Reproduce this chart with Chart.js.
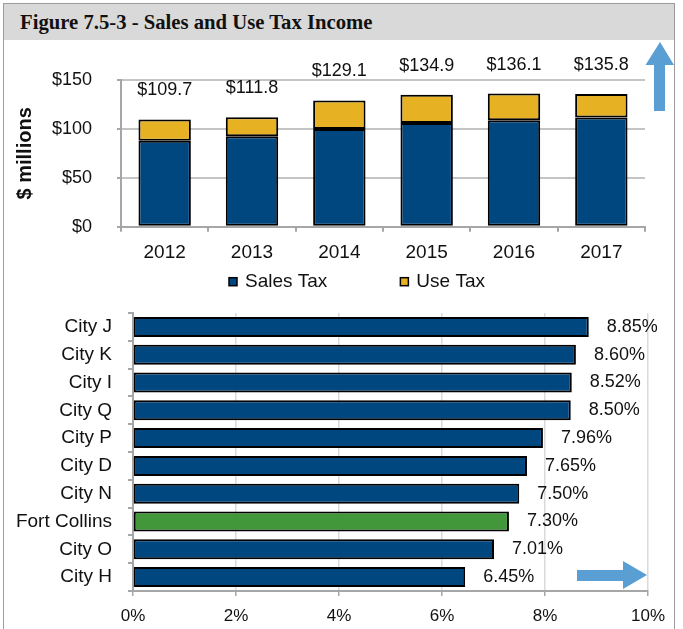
<!DOCTYPE html>
<html lang="en">
<head>
<meta charset="UTF-8">
<title>Sales and Use Tax Income</title>
<script src="https://cdn.jsdelivr.net/npm/chart.js"></script>
<style>
  body { margin: 0; padding: 0; background: #fff; }
  .figure { position: relative; width: 683px; height: 629px; overflow: hidden; }
  .frame {
    position: absolute; left: 3px; top: 3px;
    width: 670px; height: 700px;
    border: 1px solid #9c9c9c;
  }
  .header {
    position: absolute; left: 4px; top: 4px;
    width: 670px; height: 36px;
    box-sizing: border-box; padding-left: 16px;
    background: #d9d9d9; color: #111;
    font: bold 20.7px 'Liberation Serif', 'Times New Roman', serif;
    line-height: 36px;
  }
  canvas { position: absolute; left: 0; }
  #salesChart { top: 40px; }
  #rateChart { top: 300px; }
  .arrows { position: absolute; left: 0; top: 0; }
</style>
</head>
<body>
<div class="figure">
  <div class="frame"></div>
  <div class="header">Figure 7.5-3 - Sales and Use Tax Income</div>
  <canvas id="salesChart" width="650" height="260"></canvas>
  <canvas id="rateChart" width="683" height="329"></canvas>
  <svg class="arrows" width="683" height="629">
    <polygon points="660,42 645.5,65 654,65 654,111 665,111 665,65 674,65" fill="#5a9fd4"/>
    <polygon points="577,570 623,570 623,561 647,575 623,589 623,581 577,581" fill="#5a9fd4"/>
  </svg>
</div>

<script>
  // Sales and use tax income, $ millions
  const years = ['2012', '2013', '2014', '2015', '2016', '2017'];
  const salesTax = [87.8, 92.5, 100.0, 106.0, 108.9, 111.6];
  const useTax = [21.9, 19.3, 29.1, 28.9, 27.2, 24.2];

  // Combined sales tax rate by city
  const cities = ['City J', 'City K', 'City I', 'City Q', 'City P', 'City D', 'City N', 'Fort Collins', 'City O', 'City H'];
  const rates = [8.85, 8.60, 8.52, 8.50, 7.96, 7.65, 7.50, 7.30, 7.01, 6.45];
  const highlightCity = 'Fort Collins';

  const NAVY = '#00467f';
  const GOLD = '#e6b123';
  const GREEN = '#43973b';
  const TEXT = '#111';
  const GRID = '#c4c4c4';
  const AXIS = '#a6a6a6';

  Chart.defaults.font.family = "'Liberation Sans', Arial, sans-serif";
  Chart.defaults.color = TEXT;

  // total of each stack written above it
  const stackTotals = {
    id: 'stackTotals',
    afterDatasetsDraw(chart, args, opts) {
      const ctx = chart.ctx;
      const topMeta = chart.getDatasetMeta(chart.data.datasets.length - 1);
      ctx.save();
      ctx.font = opts.font;
      ctx.fillStyle = opts.color;
      ctx.textAlign = 'center';
      ctx.textBaseline = 'middle';
      topMeta.data.forEach(function (bar, i) {
        const total = chart.data.datasets.reduce(function (s, ds) { return s + ds.data[i]; }, 0);
        ctx.fillText('$' + total.toFixed(1), bar.x, bar.y - opts.offset);
      });
      ctx.restore();
    }
  };

  // small square legend under the x axis
  const boxLegend = {
    id: 'boxLegend',
    afterDraw(chart, args, opts) {
      const ctx = chart.ctx;
      let x = opts.x;
      ctx.save();
      ctx.font = opts.font;
      ctx.textAlign = 'left';
      ctx.textBaseline = 'middle';
      chart.data.datasets.forEach(function (ds) {
        ctx.fillStyle = ds.backgroundColor;
        ctx.fillRect(x, opts.y - opts.box / 2, opts.box, opts.box);
        ctx.lineWidth = 1.5;
        ctx.strokeStyle = '#000';
        ctx.strokeRect(x, opts.y - opts.box / 2, opts.box, opts.box);
        ctx.fillStyle = opts.color;
        ctx.fillText(ds.label, x + opts.box + opts.gap, opts.y);
        x += opts.box + opts.gap + ctx.measureText(ds.label).width + opts.spacing;
      });
      ctx.restore();
    }
  };

  // percentage written to the right of each bar
  const barValues = {
    id: 'barValues',
    afterDatasetsDraw(chart, args, opts) {
      const ctx = chart.ctx;
      const values = chart.data.datasets[0].data;
      ctx.save();
      ctx.font = opts.font;
      ctx.fillStyle = opts.color;
      ctx.textAlign = 'left';
      ctx.textBaseline = 'middle';
      chart.getDatasetMeta(0).data.forEach(function (bar, i) {
        ctx.fillText(values[i].toFixed(2) + '%', bar.x + opts.offset, bar.y);
      });
      ctx.restore();
    }
  };

  new Chart(document.getElementById('salesChart'), {
    type: 'bar',
    data: {
      labels: years,
      datasets: [{
        label: 'Sales Tax',
        data: salesTax,
        backgroundColor: NAVY,
        borderColor: '#000',
        borderWidth: 2,
        borderSkipped: false,
        inflateAmount: 0,
        barPercentage: 0.6,
        categoryPercentage: 1
      }, {
        label: 'Use Tax',
        data: useTax,
        backgroundColor: GOLD,
        borderColor: '#000',
        borderWidth: 2,
        borderSkipped: false,
        inflateAmount: 0,
        barPercentage: 0.6,
        categoryPercentage: 1
      }]
    },
    plugins: [stackTotals, boxLegend],
    options: {
      responsive: false,
      animation: false,
      layout: { padding: { top: 40, right: 5, bottom: 38, left: 0 } },
      plugins: {
        legend: { display: false },
        tooltip: { enabled: false },
        stackTotals: { font: "18px 'Liberation Sans', Arial, sans-serif", color: TEXT, offset: 29 },
        boxLegend: { font: "19px 'Liberation Sans', Arial, sans-serif", color: TEXT, x: 229, y: 241.7, box: 8, gap: 8, spacing: 73 }
      },
      scales: {
        x: {
          stacked: true,
          grid: { drawOnChartArea: false, color: AXIS, lineWidth: 2, tickLength: 5, offset: true },
          border: { color: AXIS, width: 2 },
          ticks: { font: { size: 19 }, padding: 10, color: TEXT },
          afterFit: function (scale) { scale.height = 35.3; }
        },
        y: {
          stacked: true,
          min: 0,
          max: 150,
          ticks: {
            stepSize: 50,
            font: { size: 18 },
            padding: 25,
            color: TEXT,
            callback: function (v) { return '$' + v; }
          },
          grid: { color: GRID, lineWidth: 2, tickLength: 4, tickColor: AXIS },
          border: { color: AXIS, width: 2 },
          title: {
            display: true,
            text: '$ millions',
            color: TEXT,
            font: { size: 20, weight: 'bold' },
            padding: { top: 13, bottom: 0 }
          },
          afterFit: function (scale) { scale.width = 121; }
        }
      }
    }
  });

  new Chart(document.getElementById('rateChart'), {
    type: 'bar',
    data: {
      labels: cities,
      datasets: [{
        data: rates,
        backgroundColor: cities.map(function (c) { return c === highlightCity ? GREEN : NAVY; }),
        borderColor: '#000',
        borderWidth: 2,
        borderSkipped: false,
        inflateAmount: 0,
        barPercentage: 0.72,
        categoryPercentage: 1
      }]
    },
    plugins: [barValues],
    options: {
      indexAxis: 'y',
      responsive: false,
      animation: false,
      layout: { padding: { top: 13, right: 35, bottom: 0, left: 0 } },
      plugins: {
        legend: { display: false },
        tooltip: { enabled: false },
        barValues: { font: "18px 'Liberation Sans', Arial, sans-serif", color: TEXT, offset: 18 }
      },
      scales: {
        x: {
          min: 0,
          max: 10,
          ticks: {
            stepSize: 2,
            font: { size: 17 },
            padding: 10,
            color: TEXT,
            callback: function (v) { return v + '%'; }
          },
          grid: { color: '#dadada', lineWidth: 1.5, tickLength: 5, tickColor: AXIS },
          border: { color: AXIS, width: 2 },
          afterFit: function (scale) { scale.height = 38; }
        },
        y: {
          grid: { drawOnChartArea: false, color: AXIS, lineWidth: 2, tickLength: 5, offset: true },
          border: { color: AXIS, width: 2 },
          ticks: { font: { size: 19 }, padding: 16, color: TEXT },
          afterFit: function (scale) {
            scale.width = 133;
            // category labels sit mid-band, so no extra room is needed above/below
            scale.paddingTop = 0;
            scale.paddingBottom = 0;
          }
        }
      }
    }
  });
</script>
</body>
</html>
